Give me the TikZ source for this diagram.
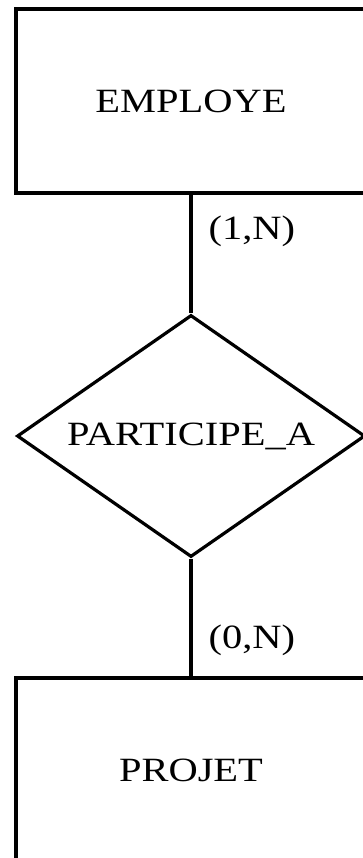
\documentclass[tikz,border=0pt]{standalone}
\usepackage{fontspec}
\setmainfont{Liberation Serif}
\usepackage{graphicx}
\usepackage{tikz}
\usetikzlibrary{positioning}
\usetikzlibrary{shapes.geometric}

\newcommand{\erlabel}[1]{\scalebox{1.19}[1]{#1}}

\begin{document}
\begin{tikzpicture}[x=1pt,y=-1pt,line width=3.2pt,
  entity/.style={rectangle,draw,minimum width=350pt,minimum height=184pt,inner sep=0pt,font=\fontsize{34}{40}\selectfont},
  relation/.style={diamond,draw,aspect=1.438,minimum width=348pt,minimum height=242pt,inner sep=0pt,font=\fontsize{34}{40}\selectfont},
  card/.style={inner sep=0pt,font=\fontsize{34}{40}\selectfont}]
\useasboundingbox (0,0) rectangle (363,858);
\clip (0,0) rectangle (363,858);
\node[entity] at (191,101) (Employe) {\erlabel{EMPLOYE}};
\node[relation] at (191,436) (Participe) {\erlabel{PARTICIPE\_A}};
\node[entity] at (191,770) (Projet) {\erlabel{PROJET}};
\draw (Employe) -- (Participe) node[card,pos=0.31,anchor=west,xshift=16pt] (cardemp) {\erlabel{(1,N)}};
\draw (Participe) -- (Projet) node[card,pos=0.69,anchor=west,xshift=16pt] (cardproj) {\erlabel{(0,N)}};
\end{tikzpicture}
\end{document}
